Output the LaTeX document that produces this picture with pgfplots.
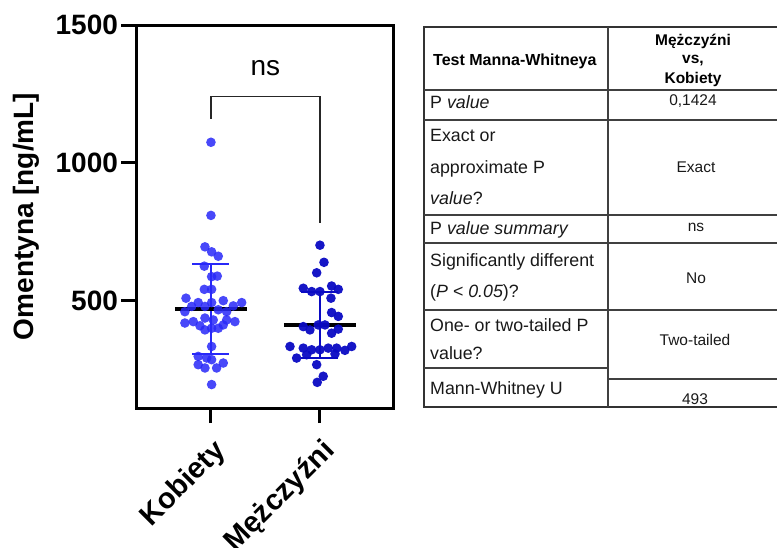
\documentclass[border=0pt]{standalone}
\usepackage{fontspec}
\setmainfont{Liberation Sans}
\usepackage{pgfplots}
\pgfplotsset{compat=1.18}
\definecolor{kob}{RGB}{40,40,248}
\definecolor{mez}{RGB}{10,10,195}

\pgfplotstableread{
x y
0.945 696
1.006 678
1.067 662
0.939 626
1.006 588
1.058 590
0.939 542
1.006 542
0.771 510
0.883 494
1.006 494
1.113 501
1.282 494
1.205 482
0.823 480
0.945 480
0.761 461
1.067 468
1.144 461
0.761 420
0.838 425
0.899 410
0.945 438
1.021 431
1.067 401
1.006 401
0.945 395
1.144 431
1.220 425
1.113 413
1.006 335
0.883 299
0.961 293
0.883 269
0.945 257
1.052 257
1.113 275
1.006 287
1.006 197
1.000 1075
1.000 810
}\kobiety

\pgfplotstableread{
x y
2.000 702
2.037 640
1.970 602
1.847 546
1.924 534
2.000 534
2.107 554
2.168 542
2.101 510
2.107 458
2.168 444
1.847 407
1.908 395
1.984 413
2.046 413
2.168 398
2.107 383
1.725 335
1.847 329
1.924 323
2.000 323
2.076 329
2.153 329
2.229 321
2.291 335
1.786 293
1.878 305
1.970 269
2.030 227
1.975 205
2.138 308
}\mezczyzni

\begin{document}
\begin{tikzpicture}
\useasboundingbox (0,0) rectangle (777pt,547pt);
\begin{axis}[
  at={(136.5pt,139pt)}, anchor=south west,
  scale only axis, width=256.5pt, height=383pt,
  xmin=0.317, xmax=2.67, ymin=112, ymax=1500,
  axis line style={line width=3pt},
  xtick={1,2}, xticklabels={Kobiety,Mężczyźni},
  ytick={500,1000,1500},
  tick align=outside, tick pos=left,
  major tick length=15pt,
  every tick/.style={line width=3pt, black},
  /pgf/number format/assume math mode=true,
  /pgf/number format/1000 sep={},
  ticklabel style={font=\fontsize{28}{28}\selectfont\bfseries},
  xticklabel style={rotate=45, anchor=north east, xshift=-6pt, yshift=-7pt, font=\fontsize{29}{29}\selectfont\bfseries},
  ylabel={Omentyna [ng/mL]},
  every axis y label/.style={at={(axis description cs:-0.43,0.5)}, rotate=90, anchor=center, font=\fontsize{28}{28}\selectfont\bfseries},
  clip=false,
]
\addplot[only marks, mark=*, mark size=4.8pt, mark options={draw opacity=0, fill=kob, fill opacity=0.85}] table[x=x,y=y] {\kobiety};
\addplot[only marks, mark=*, mark size=4.8pt, mark options={draw opacity=0, fill=mez, fill opacity=0.95}] table[x=x,y=y] {\mezczyzni};
% SD bars
\addplot[kob, line width=2pt] coordinates {(1,308) (1,634)};
\addplot[kob, line width=2pt] coordinates {(0.83,634) (1.17,634)};
\addplot[kob, line width=2pt] coordinates {(0.83,308) (1.17,308)};
\addplot[mez, line width=2pt] coordinates {(2,293) (2,533)};
\addplot[mez, line width=2pt] coordinates {(1.83,533) (2.17,533)};
\addplot[mez, line width=2pt] coordinates {(1.83,293) (2.17,293)};
% means
\addplot[black, line width=3.5pt] coordinates {(0.67,471) (1.33,471)};
\addplot[black, line width=3.5pt] coordinates {(1.67,413) (2.33,413)};
% bracket
\addplot[black!85, line width=1.5pt] coordinates {(1,1161) (1,1240) (2,1240) (2,782)};
\node[font=\fontsize{28}{28}\selectfont] at (axis cs:1.5,1343) {ns};
\end{axis}

\begin{scope}[x=1pt, y=-1pt, shift={(0pt,547pt)}]
\draw[line width=1.3pt, black!80] (777,27) -- (424,27) -- (424,407) -- (777,407);
\draw[line width=1.2pt, black!75] (608,27) -- (608,407);
\foreach \yy in {90,120,215,243,310}
  \draw[line width=1.2pt, black!75] (424,\yy) -- (777,\yy);
\draw[line width=1.2pt, black!75] (424,368) -- (608,368);
\draw[line width=1.2pt, black!75] (608,379) -- (777,379);
\tikzset{bl/.style={anchor=base west, inner sep=0pt, font=\fontsize{17.8}{17.8}\selectfont, text=black!90},
         br/.style={anchor=base, inner sep=0pt, font=\fontsize{15.5}{15.5}\selectfont, text=black!90},
         bh/.style={anchor=base, inner sep=0pt, font=\fontsize{15.5}{15.5}\selectfont\bfseries}}
\node[anchor=base west, inner sep=0pt, font=\fontsize{16}{16}\selectfont\bfseries] at (433,65.8) {Test Manna-Whitneya};
\node[bl] at (430,108.2) {P \textit{value}};
\node[bl] at (430,141.4) {Exact or};
\node[bl] at (430,173.4) {approximate P};
\node[bl] at (430,204.4) {\textit{value}?};
\node[bl] at (430,234.4) {P \textit{value summary}};
\node[bl] at (430,266.4) {Significantly different};
\node[bl] at (430,297.4) {(\textit{P < 0.05})?};
\node[bl] at (430,331.4) {One- or two-tailed P};
\node[bl] at (430,359.4) {value?};
\node[bl] at (430,394.4) {Mann-Whitney U};
\node[bh] at (693,45.6) {Mężczyźni};
\node[bh] at (693,63.6) {vs,};
\node[bh] at (693,83.2) {Kobiety};
\node[br] at (693,105.6) {0,1424};
\node[br] at (696,172.3) {Exact};
\node[br] at (696,232) {ns};
\node[br] at (696,283.6) {No};
\node[br] at (695,345.6) {Two-tailed};
\node[br] at (695,404.5) {493};
\end{scope}
\end{tikzpicture}
\end{document}
